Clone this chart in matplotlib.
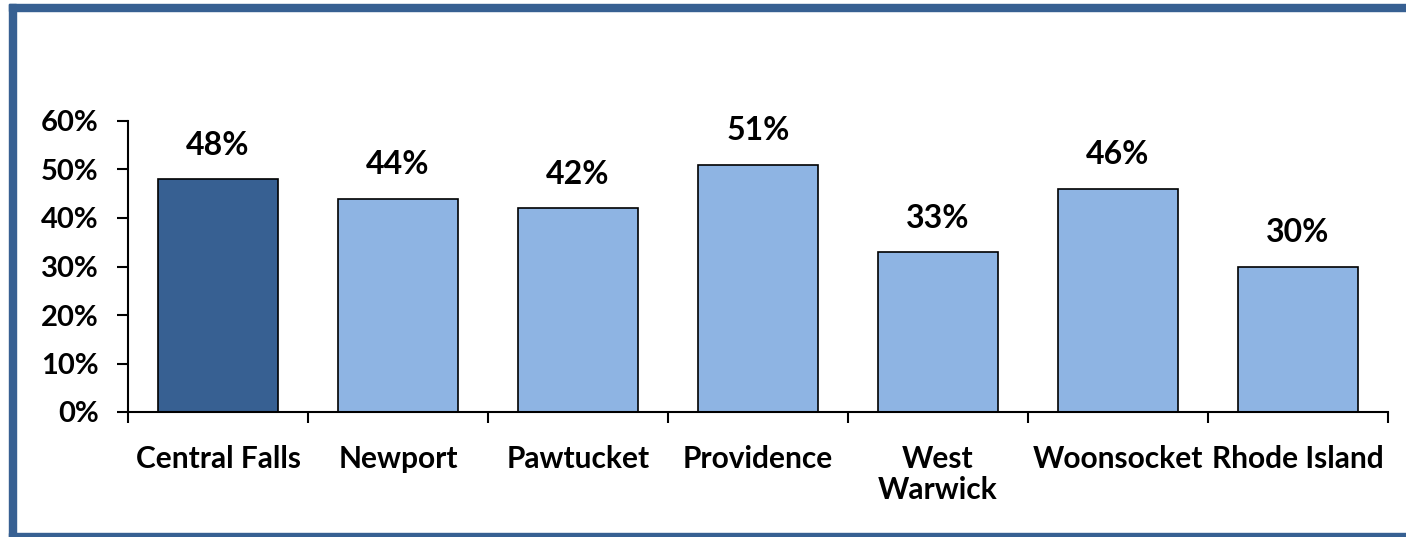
import matplotlib.pyplot as plt
from matplotlib.patches import Rectangle
from matplotlib.ticker import PercentFormatter

categories = ["Central Falls", "Newport", "Pawtucket", "Providence",
              "West\nWarwick", "Woonsocket", "Rhode Island"]
values = [0.48, 0.44, 0.42, 0.51, 0.33, 0.46, 0.30]
highlight = "Central Falls"

DARK = "#376092"
LIGHT = "#8EB4E3"
FONT = ["Lato", "DejaVu Sans"]

plt.rcParams["font.family"] = FONT
plt.rcParams["font.weight"] = "bold"

W, H = 1406, 537
fig = plt.figure(figsize=(W / 100, H / 100), dpi=100)
ax = fig.add_axes([128 / W, 125 / H, (1388 - 128) / W, (412 - 121) / H])

colors = [DARK if c == highlight else LIGHT for c in categories]
x = range(len(categories))
bars = ax.bar(x, values, width=0.667, color=colors, edgecolor="black", linewidth=1.2)

for b, v in zip(bars, values):
    ax.annotate(f"{v:.0%}", (b.get_x() + b.get_width() / 2, v),
                xytext=(0, 14), textcoords="offset points",
                ha="center", va="bottom", fontsize=23, fontweight="bold")

ax.set_xlim(-0.5, len(categories) - 0.5)
ax.set_ylim(0, 0.6)
ax.set_yticks([i / 10 for i in range(7)])
ax.yaxis.set_major_formatter(PercentFormatter(1.0, decimals=0))
ax.set_xticks(list(x))
ax.set_xticklabels(categories, fontsize=21.5, fontweight="bold", linespacing=1.1)
ax.set_xticks([i - 0.5 for i in range(len(categories) + 1)], minor=True)
ax.tick_params(axis="x", which="major", length=0, pad=24)
ax.tick_params(axis="x", which="minor", length=8, width=1.5, direction="out")
ax.tick_params(axis="y", length=8, width=1.5, labelsize=21, pad=13)
for lbl in ax.get_yticklabels():
    lbl.set_fontweight("bold")

for s in ["top", "right"]:
    ax.spines[s].set_visible(False)
for s in ["left", "bottom"]:
    ax.spines[s].set_linewidth(1.5)

# blue frame around the chart (right edge cut off in the original)
for (x0, y0, w, h) in [(9, 0, 7, 533), (9, 526, W - 9, 7), (9, 0, W - 9, 4)]:
    fig.patches.append(Rectangle((x0 / W, y0 / H), w / W, h / H,
                                 transform=fig.transFigure, color=DARK, zorder=0))

fig.savefig("out.png", dpi=100)
